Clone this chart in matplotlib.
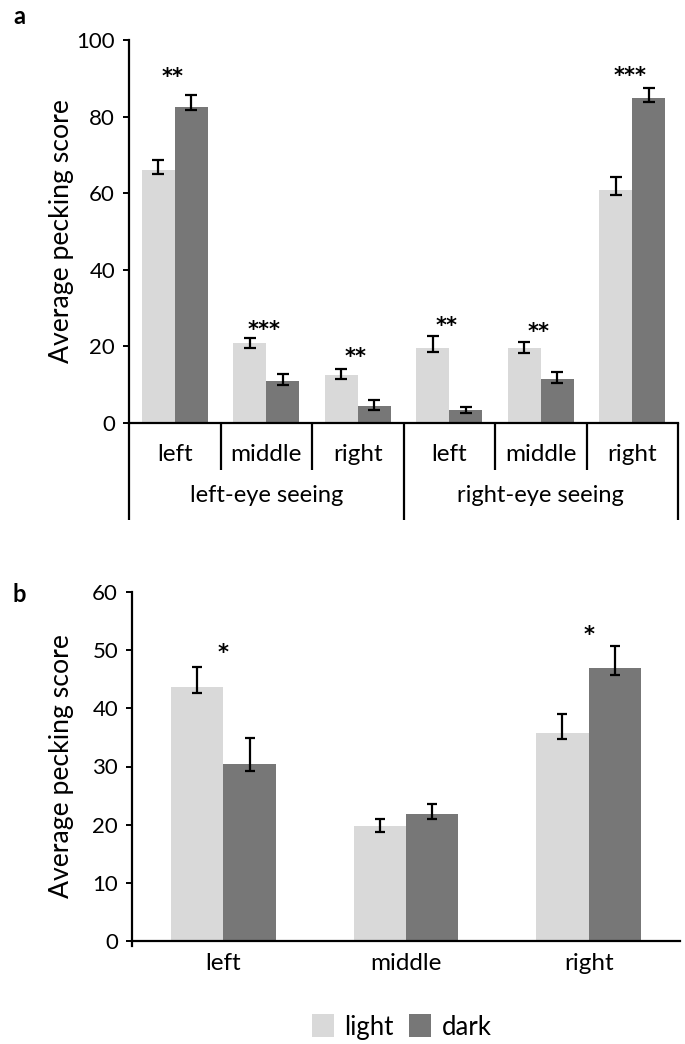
import matplotlib
matplotlib.use("Agg")
import matplotlib.pyplot as plt
import numpy as np

plt.rcParams['font.family'] = ['Lato', 'DejaVu Sans']

# ---------------- data ----------------
# Panel a
a_cells = ['left', 'middle', 'right', 'left', 'middle', 'right']
a_groups = ['left-eye seeing', 'right-eye seeing']
a_light = [66.1, 20.9, 12.5, 19.7, 19.5, 60.8]
a_light_lo = [1.1, 1.2, 1.0, 1.1, 1.2, 1.2]
a_light_hi = [2.6, 1.3, 1.6, 2.9, 1.6, 3.5]
a_dark = [82.6, 11.0, 4.4, 3.4, 11.6, 84.9]
a_dark_lo = [1.0, 1.0, 1.1, 0.9, 1.2, 1.1]
a_dark_hi = [3.1, 1.7, 1.5, 0.9, 1.6, 2.5]
a_sig = ['**', '***', '**', '**', '**', '***']
a_sig_y = [91.9, 25.8, 18.9, 26.9, 25.3, 92.3]
a_yticks = [0, 20, 40, 60, 80, 100]

# Panel b
b_cats = ['left', 'middle', 'right']
b_light = [43.7, 19.8, 35.7]
b_light_lo = [1.1, 1.1, 1.0]
b_light_hi = [3.4, 1.2, 3.4]
b_dark = [30.4, 21.9, 46.9]
b_dark_lo = [1.1, 1.0, 1.1]
b_dark_hi = [4.5, 1.7, 3.9]
b_sig = ['*', '', '*']
b_sig_y = [50.6, 0, 53.7]
b_yticks = [0, 10, 20, 30, 40, 50, 60]

series_names = ['light', 'dark']
LIGHT = '#d9d9d9'
DARK = '#777777'

W, H = 685, 1044
fig = plt.figure(figsize=(W / 100, H / 100), dpi=100)

def px_axes(x0, x1, ytop, ybot):
    return fig.add_axes([x0 / W, 1 - ybot / H, (x1 - x0) / W, (ybot - ytop) / H])

err_kw = dict(ecolor='black', elinewidth=1.6, capthick=1.6)
STAR_FONT = ['DejaVu Sans']
STAR_SIZE = 15
STAR_DROP = -0.59 * STAR_SIZE  # baseline offset so that the glyph centre sits on y

def style_axis(ax, yticks):
    for s in ['top', 'right']:
        ax.spines[s].set_visible(False)
    ax.spines['left'].set_linewidth(1.6)
    ax.spines['bottom'].set_linewidth(1.6)
    ax.set_yticks(yticks)
    ax.tick_params(axis='y', length=4, width=1.4, labelsize=16, pad=6)
    ax.set_ylabel('Average pecking score', fontsize=19.2)

def stars(ax, x, y, s, dx=0.0):
    ax.annotate(s, (x + dx, y), xytext=(0, STAR_DROP), textcoords='offset points',
                ha='center', va='baseline', fontsize=STAR_SIZE,
                fontweight='bold', family=STAR_FONT)

# ---------------- panel a ----------------
axa = px_axes(129, 678, 40, 423)
xa = np.arange(len(a_cells))
bw = 0.36
axa.bar(xa - bw / 2, a_light, bw, color=LIGHT,
        yerr=[a_light_lo, a_light_hi], capsize=4.3, error_kw=err_kw)
axa.bar(xa + bw / 2, a_dark, bw, color=DARK,
        yerr=[a_dark_lo, a_dark_hi], capsize=4.3, error_kw=err_kw)
axa.set_xlim(-0.5, len(a_cells) - 0.5)
axa.set_ylim(0, 100)
style_axis(axa, a_yticks)
axa.yaxis.set_label_coords(-67 / 549, 0.5)
axa.yaxis.label.set_va('center')
axa.set_xticks([])
for i, s in enumerate(a_sig):
    stars(axa, i, a_sig_y[i], s, dx=-0.025)
trans = axa.get_xaxis_transform()
# category labels and separators
for i, c in enumerate(a_cells):
    axa.text(i, -0.083, c, transform=trans, ha='center', va='center',
             fontsize=17.5, clip_on=False)
ncell = len(a_cells)
per = ncell // len(a_groups)
for b in range(ncell + 1):
    ylow = -0.253 if b % per == 0 else -0.123
    axa.plot([b - 0.5, b - 0.5], [0, ylow], transform=trans, color='black',
             lw=1.6, clip_on=False, solid_capstyle='butt')
for g, name in enumerate(a_groups):
    axa.text(g * per + (per - 1) / 2, -0.188, name, transform=trans,
             ha='center', va='center', fontsize=17, clip_on=False)

# ---------------- panel b ----------------
axb = px_axes(132, 680, 592, 941)
xb = np.arange(len(b_cats))
bw2 = 0.287
bl = axb.bar(xb - bw2 / 2, b_light, bw2, color=LIGHT,
             yerr=[b_light_lo, b_light_hi], capsize=3.6, error_kw=err_kw,
             label=series_names[0])
bd = axb.bar(xb + bw2 / 2, b_dark, bw2, color=DARK,
             yerr=[b_dark_lo, b_dark_hi], capsize=3.6, error_kw=err_kw,
             label=series_names[1])
axb.set_xlim(-0.5, len(b_cats) - 0.5)
axb.set_ylim(0, 60)
style_axis(axb, b_yticks)
axb.yaxis.set_label_coords(-70 / 548, 0.5)
axb.yaxis.label.set_va('center')
axb.set_xticks(xb)
axb.set_xticklabels(b_cats, fontsize=17.5)
axb.tick_params(axis='x', length=0, pad=9)
axb.spines['left'].set_bounds(-0.8, 60)
for i, s in enumerate(b_sig):
    if s:
        stars(axb, i, b_sig_y[i], s, dx=0.0)

fig.legend(handles=[bl, bd], labels=series_names, loc='center',
           bbox_to_anchor=(402 / W, 1 - 1027 / H), ncol=2, frameon=False,
           fontsize=18.5, handlelength=0.85, handleheight=1.0, handletextpad=0.4,
           columnspacing=0.6)

# panel letters
fig.text(13 / W, 1 - 17 / H, 'a', fontsize=17, fontweight='bold',
         ha='left', va='center')
fig.text(13 / W, 1 - 595 / H, 'b', fontsize=17, fontweight='bold',
         ha='left', va='center')

fig.savefig('out.png', dpi=100)
